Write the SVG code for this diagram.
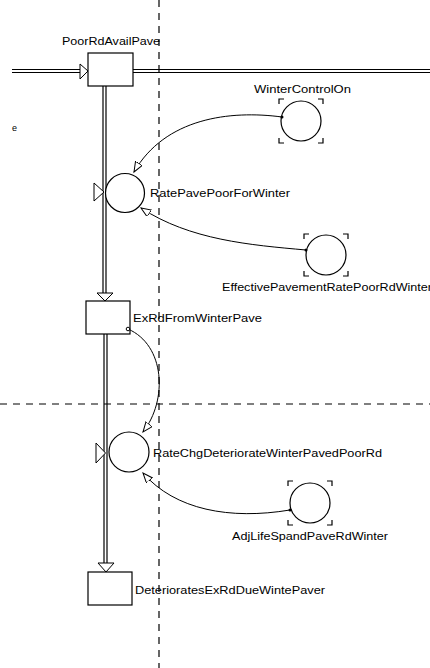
<svg xmlns="http://www.w3.org/2000/svg" width="430" height="668" viewBox="0 0 430 668">
<style>
text{font-family:"Liberation Sans",Arial,sans-serif;font-size:10px;fill:#000}
.pipe{stroke:#000;stroke-width:1.2;fill:none}
.box{fill:#fff;stroke:#000;stroke-width:1.2}
.valve{fill:#fff;stroke:#000;stroke-width:1.2}
.tri{fill:#fff;stroke:#000;stroke-width:1}
.aux{fill:#fff;stroke:#000;stroke-width:1.2}
.corner{fill:none;stroke:#000;stroke-width:1.2}
.dash{stroke:#000;stroke-width:1.2;stroke-dasharray:7 6;fill:none}
.conn{fill:none;stroke:#000;stroke-width:1;marker-end:url(#arr)}
</style>
<defs>
<marker id="arr" markerUnits="userSpaceOnUse" markerWidth="12" markerHeight="10" refX="10" refY="4" orient="auto">
<path d="M0,0 L10,4 L0,8 Z" fill="#fff" stroke="#000" stroke-width="1"/>
</marker>
</defs>
<rect width="430" height="668" fill="#fff"/>
<line class="dash" x1="159" y1="0" x2="159" y2="668"/>
<line class="dash" x1="0" y1="404" x2="430" y2="404"/>
<text x="12" y="131" style="font-size:9px">e</text>
<g id="pipes">
<line class="pipe" x1="12" y1="69.5" x2="82" y2="69.5"/>
<line class="pipe" x1="12" y1="72.5" x2="82" y2="72.5"/>
<polygon class="tri" points="80,64 88,71 80,79"/>
<line class="pipe" x1="133" y1="69.5" x2="430" y2="69.5"/>
<line class="pipe" x1="133" y1="72.5" x2="430" y2="72.5"/>
<line class="pipe" x1="103" y1="86" x2="103" y2="293"/>
<line class="pipe" x1="106" y1="86" x2="106" y2="293"/>
<polygon class="tri" points="97,293 113,293 105,301"/>
<line class="pipe" x1="104" y1="334" x2="104" y2="563"/>
<line class="pipe" x1="107" y1="334" x2="107" y2="563"/>
<polygon class="tri" points="98,563 114,563 106,572"/>
</g>
<g id="PoorRdAvailPave">
<rect class="box" x="88" y="53" width="45" height="33"/>
<text x="62" y="45" textLength="98" lengthAdjust="spacingAndGlyphs">PoorRdAvailPave</text>
</g>
<g id="ExRdFromWinterPave">
<rect class="box" x="86" y="301" width="44" height="33"/>
<text x="133" y="322" textLength="129" lengthAdjust="spacingAndGlyphs">ExRdFromWinterPave</text>
</g>
<g id="DeterioratesExRdDueWintePaver">
<rect class="box" x="88" y="572" width="44" height="33"/>
<text x="135" y="594" textLength="190" lengthAdjust="spacingAndGlyphs">DeterioratesExRdDueWintePaver</text>
</g>
<g id="RatePavePoorForWinter">
<polygon class="tri" points="94,183 104,192 94,201"/>
<circle class="valve" cx="125" cy="193" r="19.5"/>
<text x="150" y="197" textLength="140" lengthAdjust="spacingAndGlyphs">RatePavePoorForWinter</text>
</g>
<g id="RateChgDeteriorateWinterPavedPoorRd">
<polygon class="tri" points="96,443 105.5,453 96,463"/>
<circle class="valve" cx="129" cy="452" r="20"/>
<text x="153" y="457" textLength="229" lengthAdjust="spacingAndGlyphs">RateChgDeteriorateWinterPavedPoorRd</text>
</g>
<g id="WinterControlOn">
<circle class="aux" cx="301" cy="121" r="20"/>
<path class="corner" d="M279,104 V99 H284 M318,99 H323 V104 M323,138 V143 H318 M284,143 H279 V138"/>
<text x="254" y="93" textLength="97" lengthAdjust="spacingAndGlyphs">WinterControlOn</text>
</g>
<g id="EffectivePavementRatePoorRdWinter">
<circle class="aux" cx="326" cy="255" r="20"/>
<path class="corner" d="M304,239 V234 H309 M343,234 H348 V239 M348,271 V276 H343 M309,276 H304 V271"/>
<text x="222" y="291" textLength="210" lengthAdjust="spacingAndGlyphs">EffectivePavementRatePoorRdWinter</text>
</g>
<g id="AdjLifeSpandPaveRdWinter">
<circle class="aux" cx="310" cy="503" r="20"/>
<path class="corner" d="M288,486 V481 H293 M327,481 H332 V486 M332,520 V525 H327 M293,525 H288 V520"/>
<text x="232" y="540" textLength="156" lengthAdjust="spacingAndGlyphs">AdjLifeSpandPaveRdWinter</text>
</g>
<g id="connectors">
<path class="conn" d="M282,117 C230,110 165,118 134,172"/>
<circle cx="282" cy="117" r="1.5"/>
<path class="conn" d="M306,250 C250,245 190,240 141,208"/>
<circle cx="306" cy="250" r="1.5"/>
<path class="conn" d="M128,329 C165,345 168,400 143,432"/>
<circle cx="128" cy="329" r="1.8" fill="#fff" stroke="#000" stroke-width="1"/>
<path class="conn" d="M290,510 C230,520 175,510 143,473"/>
<circle cx="290" cy="510" r="1.5"/>
</g>
</svg>
